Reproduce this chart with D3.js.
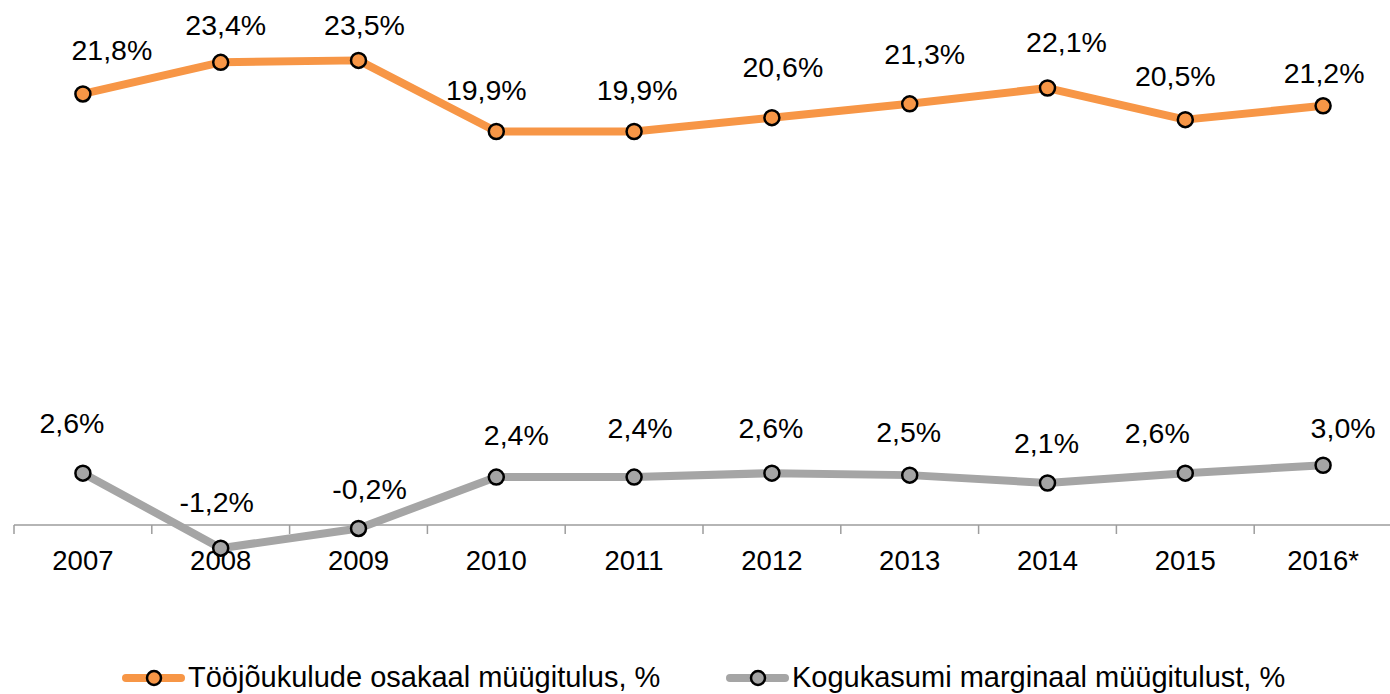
<!DOCTYPE html>
<html>
<head>
<meta charset="utf-8">
<script src="https://cdn.jsdelivr.net/npm/d3@7"></script>
<style>
  body { margin: 0; background: #fff; }
  text { font-family: "Liberation Sans", Arial, sans-serif; fill: #000; }
</style>
</head>
<body>
<div id="chart"></div>
<script>
// data
var years = ["2007", "2008", "2009", "2010", "2011", "2012", "2013", "2014", "2015", "2016*"];
var laborShare = [21.8, 23.4, 23.5, 19.9, 19.9, 20.6, 21.3, 22.1, 20.5, 21.2];
var grossMargin = [2.6, -1.2, -0.2, 2.4, 2.4, 2.6, 2.5, 2.1, 2.6, 3.0];
var seriesNames = ["Tööjõukulude osakaal müügitulus, %", "Kogukasumi marginaal müügitulust, %"];

// label nudges (px) as placed in the original
var laborLabelNudge = [[29, -34], [5, -27], [6, -25], [-10, -31], [3, -31], [11, -41], [15, -40], [19, -36], [-10, -34], [1, -23]];
var marginLabelNudge = [[-11, -40], [-4, -36], [11, -29], [20, -32], [6, -39], [-1, -35], [-1, -33], [-1, -30], [-28, -30], [20, -27]];

var width = 1390,
    height = 694,
    axisFont = 27.5,
    labelFont = 28.5,
    legendFont = 29,
    markerRadius = 7.5;

var orange = "#F79646",
    grey = "#A5A5A5";

var svg = d3.select("#chart").append("svg")
    .attr("width", width)
    .attr("height", height);

var x = d3.scaleBand().domain(years).range([14, 1392]).padding(0);
var y = d3.scaleLinear().domain([0, 20]).range([524.5, 129.5]);

function cx(d, i) { return x(years[i]) + x.bandwidth() / 2; }

// axis line + ticks at band edges
var axisY = y(0) + 0.5;
svg.append("line")
    .attr("x1", 14).attr("x2", width)
    .attr("y1", axisY).attr("y2", axisY)
    .attr("stroke", "#9d9d9d").attr("stroke-width", 1.5);

svg.selectAll(".tick")
    .data(years)
    .enter().append("line")
    .attr("class", "tick")
    .attr("x1", function(d) { return x(d); })
    .attr("x2", function(d) { return x(d); })
    .attr("y1", axisY).attr("y2", axisY + 9)
    .attr("stroke", "#9d9d9d").attr("stroke-width", 1.5);

svg.selectAll(".year")
    .data(years)
    .enter().append("text")
    .attr("class", "year")
    .attr("x", function(d) { return x(d) + x.bandwidth() / 2; })
    .attr("y", 570)
    .attr("text-anchor", "middle")
    .style("font-size", axisFont + "px")
    .text(function(d) { return d; });

function drawSeries(values, nudges, colour) {
  var line = d3.line()
      .x(function(d, i) { return cx(d, i); })
      .y(function(d) { return y(d); });

  svg.append("path")
      .datum(values)
      .attr("d", line)
      .attr("fill", "none")
      .attr("stroke", colour)
      .attr("stroke-width", 8)
      .attr("stroke-linejoin", "round");

  var g = svg.append("g");
  g.selectAll("circle")
      .data(values)
      .enter().append("circle")
      .attr("cx", cx)
      .attr("cy", function(d) { return y(d); })
      .attr("r", markerRadius)
      .attr("fill", colour)
      .attr("stroke", "#000")
      .attr("stroke-width", 2.5);

  g.selectAll("text")
      .data(values)
      .enter().append("text")
      .attr("x", function(d, i) { return cx(d, i) + nudges[i][0]; })
      .attr("y", function(d, i) { return y(d) + nudges[i][1]; })
      .attr("text-anchor", "middle")
      .style("font-size", labelFont + "px")
      .text(function(d) { return d3.format(".1f")(d).replace(".", ",").replace("−", "-") + "%"; });
}

drawSeries(grossMargin, marginLabelNudge, grey);
drawSeries(laborShare, laborLabelNudge, orange);

// legend
var legendItems = [
  { name: seriesNames[0], colour: orange, x: 126 },
  { name: seriesNames[1], colour: grey, x: 730 }
];
var legendY = 678;
var legend = svg.selectAll(".legend")
    .data(legendItems)
    .enter().append("g")
    .attr("class", "legend")
    .attr("transform", function(d) { return "translate(" + d.x + "," + legendY + ")"; });

legend.append("line")
    .attr("x1", 0).attr("x2", 55)
    .attr("stroke", function(d) { return d.colour; })
    .attr("stroke-width", 8)
    .attr("stroke-linecap", "round");

legend.append("circle")
    .attr("cx", 28)
    .attr("r", 7)
    .attr("fill", function(d) { return d.colour; })
    .attr("stroke", "#000")
    .attr("stroke-width", 2.5);

legend.append("text")
    .attr("x", 62)
    .attr("y", 9)
    .style("font-size", legendFont + "px")
    .text(function(d) { return d.name; });
</script>
</body>
</html>
